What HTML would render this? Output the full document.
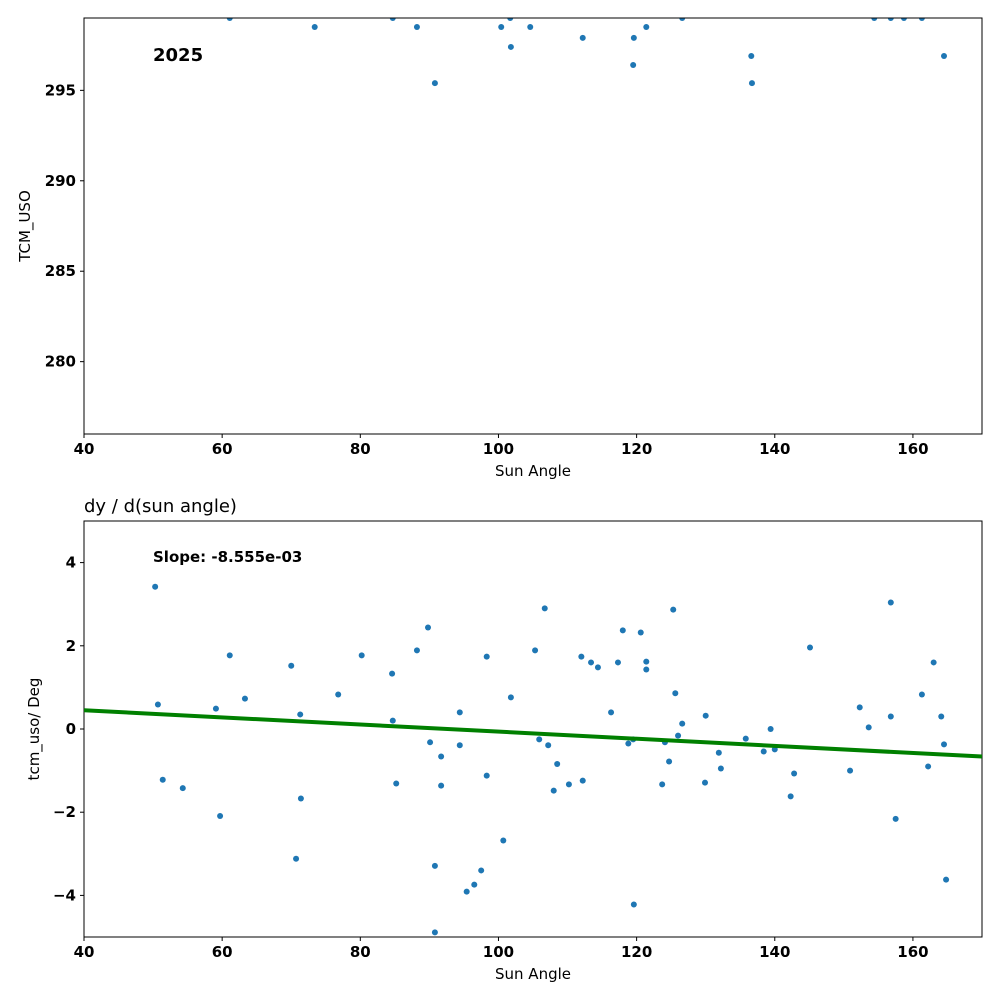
<!DOCTYPE html>
<html><head><meta charset="utf-8"><style>
html,body{margin:0;padding:0;background:#fff}
svg text{font-family:"DejaVu Sans","Liberation Sans",sans-serif}
</style></head><body>
<svg id="chart" width="1000" height="1000" xmlns="http://www.w3.org/2000/svg">
<rect width="1000" height="1000" fill="#fff"/>
<g id="top"></g>
<g id="bot"></g>
</svg>
<script>
const xTicks=[40,60,80,100,120,140,160];
const topYTicks=[280,285,290,295];
const botYTicks=[-4,-2,0,2,4];
const topX=[61.1,73.4,84.7,88.2,90.8,100.4,101.7,101.8,104.6,112.2,119.6,119.5,121.4,126.6,136.6,136.7,154.4,156.8,158.7,161.3,164.5];
const topY=[299,298.5,299,298.5,295.4,298.5,299,297.4,298.5,297.9,297.9,296.4,298.5,299,296.9,295.4,299,299,299,299,296.9];
const botX=[50.3,50.7,51.4,54.3,59.1,59.7,61.1,63.3,70.0,70.7,71.3,71.4,76.8,80.2,84.6,84.7,85.2,88.2,89.8,90.1,90.8,90.8,91.7,91.7,94.4,94.4,95.4,96.5,97.5,98.3,98.3,100.7,101.8,105.3,105.9,106.7,107.2,108.0,108.5,110.2,112.0,112.2,113.4,114.4,116.3,117.3,118.0,118.8,119.5,119.6,120.6,121.4,121.4,123.7,124.1,124.7,125.3,125.6,126.0,126.6,129.9,130.0,131.9,132.2,135.8,138.4,139.4,140.0,142.3,142.8,145.1,150.9,152.3,153.6,156.8,156.8,157.5,161.3,162.2,163.0,164.1,164.5,164.8];
const botY=[3.42,0.59,-1.22,-1.42,0.49,-2.09,1.77,0.73,1.52,-3.12,0.35,-1.67,0.83,1.77,1.33,0.2,-1.31,1.89,2.44,-0.32,-3.29,-4.89,-0.66,-1.36,0.4,-0.39,-3.91,-3.74,-3.4,1.74,-1.12,-2.68,0.76,1.89,-0.25,2.9,-0.39,-1.48,-0.84,-1.33,1.74,-1.24,1.6,1.48,0.4,1.6,2.37,-0.35,-0.25,-4.22,2.32,1.62,1.43,-1.33,-0.32,-0.78,2.87,0.86,-0.16,0.13,-1.29,0.32,-0.57,-0.95,-0.23,-0.54,0.0,-0.49,-1.62,-1.07,1.96,-1.0,0.52,0.04,3.04,0.3,-2.16,0.83,-0.9,1.6,0.3,-0.37,-3.62];
const slope=[-0.008555];
const intercept=[0.792];
const NS="http://www.w3.org/2000/svg";
function mk(parent,tag,attrs,text){const e=document.createElementNS(NS,tag);for(const k in attrs)e.setAttribute(k,attrs[k]);if(text!==undefined)e.textContent=text;parent.appendChild(e);return e;}
function panel(g,top,bottom,ymin,ymax,yTicks,xs,ys,ylabel,name){
  const L=84,R=982;
  const sx=v=>L+(v-40)/(170-40)*(R-L);
  const sy=v=>bottom-(v-ymin)/(ymax-ymin)*(bottom-top);
  const pts=mk(g,'g',{'clip-path':'url(#clip-'+name+')'});
  
  
  const defs=mk(g,'defs',{});const cp=mk(defs,'clipPath',{id:'clip-'+name});mk(cp,'rect',{x:L,y:top,width:R-L,height:bottom-top});
  xs.forEach((x,i)=>{const c=mk(pts,'circle',{cx:sx(x),cy:sy(ys[i]),r:3,fill:'#1f77b4'});
    
    });
  const fr=mk(g,'rect',{x:L,y:top,width:R-L,height:bottom-top,fill:'none',stroke:'#000','stroke-width':1});
  
  
  xTicks.forEach(t=>{const x=sx(t);mk(g,'line',{x1:x,x2:x,y1:bottom,y2:bottom+4,stroke:'#000'});
    const tx=mk(g,'text',{x:x,y:bottom+20,'text-anchor':'middle','font-size':15,'font-weight':'bold'},String(t));
    
    });
  yTicks.forEach(t=>{const y=sy(t);mk(g,'line',{x1:L-4,x2:L,y1:y,y2:y,stroke:'#000'});
    const tx=mk(g,'text',{x:L-8,y:y+5,'text-anchor':'end','font-size':15,'font-weight':'bold'},String(t).replace('-','\u2212'));
    
    });
  const xl=mk(g,'text',{x:(L+R)/2,y:bottom+42,'text-anchor':'middle','font-size':15},'Sun Angle');
  
  
  const cy=(top+bottom)/2;
  const yl=mk(g,'text',{x:0,y:0,'text-anchor':'middle','font-size':15,transform:'translate('+(name==='top'?30:39)+','+cy+') rotate(-90)'},ylabel);
  
  
  return {sx,sy,L,R};
}
const tg=document.getElementById('top');
panel(tg,18,434,276,299,topYTicks,topX,topY,'TCM_USO','top');
const yr=mk(tg,'text',{x:153,y:61,'font-size':18,'font-weight':'bold'},'2025');


const bg=document.getElementById('bot');
const p=panel(bg,521,937,-5,5,botYTicks,botX,botY,'tcm_uso/ Deg','bottom');
const ln=mk(bg,'line',{x1:p.sx(40),y1:p.sy(intercept[0]+slope[0]*40),x2:p.sx(170),y2:p.sy(intercept[0]+slope[0]*170),stroke:'#008000','stroke-width':4});


const sl=mk(bg,'text',{x:153,y:562,'font-size':15,'font-weight':'bold'},'Slope: -8.555e-03');


const ti=mk(bg,'text',{x:84,y:512,'font-size':18},'dy / d(sun angle)');


</script>
</body></html>
